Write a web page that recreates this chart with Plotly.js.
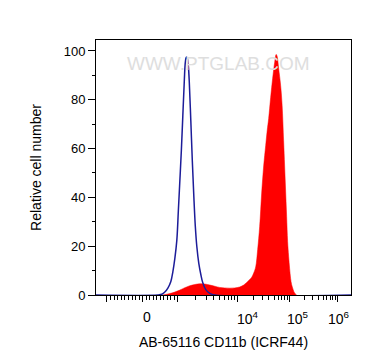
<!DOCTYPE html>
<html>
<head>
<meta charset="utf-8">
<script src="https://cdn.plot.ly/plotly-3.0.1.min.js"></script>
<style>
html,body{margin:0;padding:0;background:#fff;}
#chart{width:372px;height:364px;}
</style>
</head>
<body>
<div id="chart"></div>
<script>
// ---- Data (x in biexponential display units, y = relative cell number) ----
const blueX = [-0.94, 0.30, 0.38, 0.44, 0.50, 0.56, 0.60, 0.64, 0.68, 0.71, 0.74, 0.77, 0.80, 0.83, 0.85, 0.87, 0.89, 0.91, 0.93, 0.96, 0.99, 1.02, 1.05, 1.08, 1.12, 1.16, 1.20, 1.26, 1.34, 1.44, 4.17];
const blueY = [0, 0, 0.3, 1.2, 2.8, 5.5, 9.5, 15, 22.5, 34.4, 46.7, 59, 73.5, 88, 95.3, 97.4, 97, 94, 87, 71.5, 55, 40.6, 28.2, 20, 13, 8.5, 5, 2.2, 0.7, 0, 0];

const redX = [0.40, 0.54, 0.64, 0.74, 0.84, 0.94, 1.04, 1.14, 1.24, 1.34, 1.44, 1.54, 1.64, 1.74, 1.84, 1.94, 2.02, 2.08, 2.14, 2.18, 2.22, 2.26, 2.30, 2.34, 2.38, 2.42, 2.46, 2.49, 2.52, 2.56, 2.60, 2.64, 2.67, 2.69, 2.72, 2.76, 2.79, 2.82, 2.84, 2.86, 2.88, 2.90, 2.92, 2.94, 2.96, 2.98, 3.01, 3.04, 3.08];
const redY = [0, 0.6, 1.2, 2.0, 3.0, 3.8, 4.3, 4.6, 4.5, 4.1, 3.6, 3.1, 2.9, 2.8, 2.9, 3.3, 4.1, 5.1, 6.4, 7.3, 9.0, 11.5, 18.7, 28.2, 41.8, 52.9, 61.2, 67.3, 72.3, 81, 88.8, 95.3, 98.6, 97.8, 92.9, 85.9, 77.6, 63.2, 52.9, 42.6, 32.3, 22, 15.9, 10.9, 6.8, 4.3, 2.3, 0.8, 0];

// Axis ticks (decade positions on the biexponential display scale)
const decadeValues = [-1e3, 0, 1e3, 1e4, 1e5, 1e6];
const decadePos = [-0.72, 0, 0.70, 1.90, 2.94, 3.90];
const labelValues = [0, 1e4, 1e5, 1e6];
const labelText = ['0', '10<sup>4</sup>', '10<sup>5</sup>', '10<sup>6</sup>'];
const yTicks = [0, 20, 40, 60, 80, 100];

const xRange = [-0.94, 4.17];
const yRange = [0, 104.5];

// minor ticks: linear between -1e3 and 1e3, log-spaced in decades
const minorX = [];
for (let k = 1; k <= 9; k++) {
  minorX.push(-k / 10 * (decadePos[1] - decadePos[0]));
  minorX.push(k / 10 * (decadePos[2] - decadePos[1]));
}
for (let d = 2; d < decadePos.length - 1; d++) {
  for (let k = 2; k <= 9; k++) {
    minorX.push(decadePos[d] + Math.log10(k) * (decadePos[d + 1] - decadePos[d]));
  }
}

const labelNudge = [4, 10, 8, 1];
const annotations = labelValues.map((v, i) => ({
  x: decadePos[decadeValues.indexOf(v)], xref: 'x',
  y: 0, yref: 'paper', yanchor: 'top', xanchor: 'center',
  xshift: labelNudge[i], yshift: -12,
  text: labelText[i], showarrow: false,
  font: {family: 'Liberation Sans, Arial, sans-serif', size: 14, color: '#000'}
}));
annotations.push({
  x: 0.482, y: 0.909, xref: 'paper', yref: 'paper', xanchor: 'center', yanchor: 'middle',
  text: 'WWW.PTGLAB.COM', showarrow: false,
  font: {family: 'Liberation Sans, Arial, sans-serif', size: 19, color: '#dedede'}
});

const traces = [
  {x: redX, y: redY, type: 'scatter', mode: 'lines', fill: 'tozeroy',
   fillcolor: '#ff0000', line: {color: '#ff0000', width: 0.5, shape: 'spline'}, hoverinfo: 'skip'},
  {x: blueX, y: blueY, type: 'scatter', mode: 'lines',
   line: {color: '#1c1c99', width: 1.5, shape: 'spline'}, hoverinfo: 'skip'}
];

const layout = {
  width: 372, height: 364,
  margin: {l: 96, r: 21, t: 40, b: 69},
  paper_bgcolor: '#fff', plot_bgcolor: '#fff',
  showlegend: false,
  font: {family: 'Liberation Sans, Arial, sans-serif', color: '#000'},
  xaxis: {
    range: xRange, showgrid: false, zeroline: false,
    showline: true, mirror: true, linecolor: '#000', linewidth: 1,
    tickmode: 'array', tickvals: decadePos, ticktext: decadePos.map(() => ''),
    showticklabels: false,
    ticks: 'outside', ticklen: 6, tickwidth: 1, tickcolor: '#000',
    minor: {tickmode: 'array', tickvals: minorX, ticks: 'outside', ticklen: 3.5, tickwidth: 1, tickcolor: '#000'},
    title: {text: 'AB-65116 CD11b (ICRF44)', font: {size: 14, color: '#000'}, standoff: 36}
  },
  yaxis: {
    range: yRange, showgrid: false, zeroline: false,
    showline: true, mirror: true, linecolor: '#000', linewidth: 1,
    tickmode: 'array', tickvals: yTicks,
    ticks: 'outside', ticklen: 7, tickwidth: 1, tickcolor: '#000',
    tickfont: {size: 13, color: '#000'},
    minor: {dtick: 10, ticks: 'outside', ticklen: 3.5, tickwidth: 1, tickcolor: '#000'},
    title: {text: 'Relative cell number', font: {size: 14, color: '#000'}, standoff: 18}
  },
  annotations: annotations
};

Plotly.newPlot('chart', traces, layout, {displayModeBar: false, staticPlot: true});
</script>
</body>
</html>
